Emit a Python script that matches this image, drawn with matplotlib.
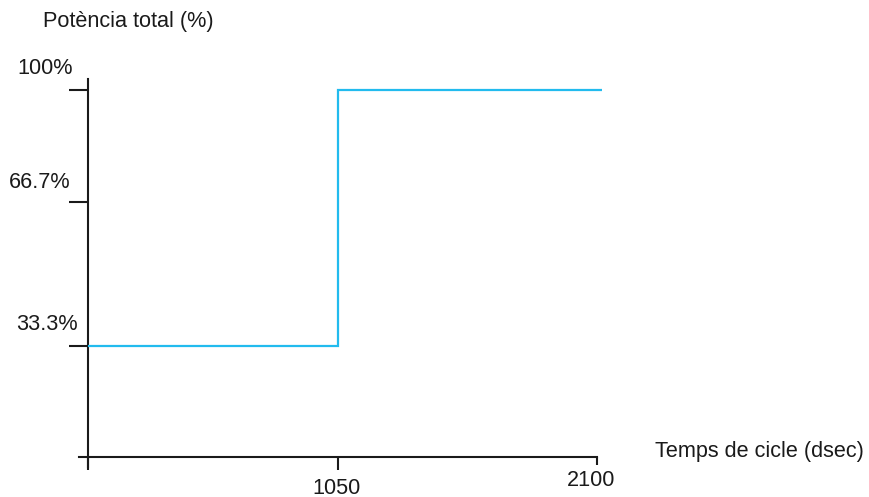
import numpy as np
import matplotlib
matplotlib.use("Agg")
import matplotlib.pyplot as plt
from matplotlib.scale import FuncScale

# Data
cycle_time = [0, 1050, 1050, 2120]          # dsec
total_power = [33.3, 33.3, 100, 100]          # %
x_ticks = [0, 1050]
x_tick_labels = ["", "1050"]
x_end_tick = [2100]
x_end_label = ["2100"]
y_ticks = [33.3, 66.7, 100]
y_tick_labels = ["33.3%", "66.7%", "100%"]

plt.rcParams["font.family"] = ["Liberation Sans", "DejaVu Sans"]
FS = 15.6
INK = "#1a1a1a"
LINE = "#22bbee"

fig = plt.figure(figsize=(8.7, 4.97), dpi=100)
W, H = 870, 497
left_px, right_px, top_px, bottom_px = 79, 606, 79, 467
ax = fig.add_axes([left_px / W, (H - bottom_px) / H,
                   (right_px - left_px) / W, (bottom_px - top_px) / H])


def piecewise(kv, kp):
    kv = np.asarray(kv, float)
    kp = np.asarray(kp, float)
    return (lambda v: np.interp(v, kv, kp)), (lambda p: np.interp(p, kp, kv))


# Piecewise-linear scales through the labelled levels
yf, yi = piecewise([-100, 0, 33.3, 66.7, 100, 200], [-333, 0, 111, 255, 367, 703])
xf, xi = piecewise([-1050, 0, 1050, 2100, 3150], [-250, 0, 250, 509, 768])
ax.set_yscale(FuncScale(ax.yaxis, (yf, yi)))
ax.set_xscale(FuncScale(ax.xaxis, (xf, xi)))
ax.set_ylim(yi(-10), yi(378))
ax.set_xlim(xi(-(88 - left_px)), xi(right_px - 88))

ax.plot(cycle_time, total_power, color=LINE, lw=1.6, solid_joinstyle="miter",
        solid_capstyle="butt", zorder=3)

# Axes lines
for s in ("top", "right"):
    ax.spines[s].set_visible(False)
ax.spines["left"].set_position(("data", 0))
ax.spines["bottom"].set_position(("data", 0))
ax.spines["bottom"].set_bounds(ax.get_xlim()[0], 2100)
for s in ("left", "bottom"):
    ax.spines[s].set_color(INK)
    ax.spines[s].set_linewidth(1.5)
ax.patch.set_visible(False)

ax.set_yticks(y_ticks)
ax.set_yticklabels([])
ax.yaxis.set_minor_locator(matplotlib.ticker.NullLocator())
ax.tick_params(axis="y", direction="out", length=13.5, width=1.5, color=INK)
ax.set_xticks(x_ticks)
ax.set_xticklabels([])
ax.set_xticks(x_end_tick, minor=True)
ax.tick_params(axis="x", which="major", direction="out", length=9, width=1.5, color=INK)
ax.tick_params(axis="x", which="minor", direction="out", length=6, width=1.5, color=INK)

# Tick labels sit above-left of their ticks
y_offsets = [(-10, 21), (-18, 19), (-15, 22)]
for v, lab, off in zip(y_ticks, y_tick_labels, y_offsets):
    ax.annotate(lab, (0, v), xytext=off, textcoords="offset pixels",
                ha="right", va="center", fontsize=FS, color=INK)
for v, lab in zip(x_ticks, x_tick_labels):
    if lab:
        ax.annotate(lab, (v, 0), xytext=(-2, -31), textcoords="offset pixels",
                    ha="center", va="center", fontsize=FS, color=INK)
for v, lab in zip(x_end_tick, x_end_label):
    ax.annotate(lab, (v, 0), xytext=(-6, -23), textcoords="offset pixels",
                ha="center", va="center", fontsize=FS, color=INK)

fig.text(43 / W, 1 - 22 / H, "Potència total (%)", ha="left", va="center",
         fontsize=FS, color=INK)
fig.text(655 / W, 1 - 451 / H, "Temps de cicle (dsec)", ha="left", va="center",
         fontsize=FS, color=INK)

fig.savefig("out.png", dpi=100, facecolor="white")
